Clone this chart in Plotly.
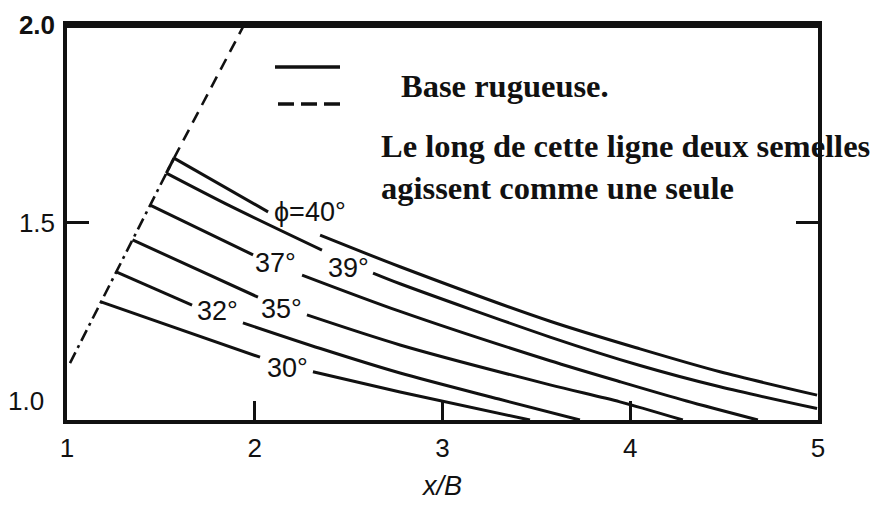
import plotly.graph_objects as go

# Ratio curves vs x/B for each friction angle (None = break where the angle label sits)
x_40 = [1.529, 1.570, None, 1.570, 2.071, None, 2.348, 2.774, 3.573, 4.052, 4.478, 4.995]
y_40 = [1.625, 1.663, None, 1.663, 1.527, None, 1.468, 1.388, 1.250, 1.180, 1.122, 1.063]

x_39 = [1.529, 1.868, 2.358, None, 2.630, 2.774, 3.573, 4.052, 4.478, 4.995]
y_39 = [1.625, 1.542, 1.430, None, 1.372, 1.345, 1.210, 1.138, 1.084, 1.029]

x_37 = [1.443, 1.991, None, 2.252, 2.774, 3.573, 3.945, 4.300, 4.680]
y_37 = [1.544, 1.418, None, 1.367, 1.275, 1.150, 1.097, 1.048, 1.000]

x_35 = [1.349, 2.017, None, 2.278, 2.774, 3.573, 3.945, 4.280]
y_35 = [1.456, 1.311, None, 1.266, 1.190, 1.089, 1.046, 1.000]

x_32 = [1.262, 1.666, None, 1.937, 2.350, 2.774, 3.300, 3.732]
y_32 = [1.375, 1.291, None, 1.246, 1.181, 1.119, 1.053, 1.000]

x_30 = [1.181, 2.028, None, 2.310, 2.774, 3.466]
y_30 = [1.299, 1.159, None, 1.122, 1.071, 1.000]

# Limit line where the two footings act as one
limit_x_low = [1.016, 1.181, 1.262, 1.349, 1.443, 1.529, 1.570]
limit_y_low = [1.144, 1.299, 1.375, 1.456, 1.544, 1.625, 1.663]
limit_x_up = [1.570, 1.943]
limit_y_up = [1.663, 2.000]

# Angle labels
label_text = ["\u03d5=40\u00b0", "39\u00b0", "37\u00b0", "35\u00b0", "32\u00b0", "30\u00b0"]
label_x = [2.294, 2.497, 2.113, 2.140, 1.799, 2.172]
label_y = [1.527, 1.385, 1.397, 1.281, 1.276, 1.132]

x_ticks = [1, 2, 3, 4, 5]
x_ticktext = ["1", "2", "3", "4", "5"]
y_ticks = [1.5, 2.0]
y_ticktext = ["1.5", "<b>2.0</b>"]

SANS = "Liberation Sans, Arial, sans-serif"
SERIF = "Liberation Serif, Times New Roman, serif"
INK = "#111111"

fig = go.Figure()

curves = [(x_40, y_40), (x_39, y_39), (x_37, y_37), (x_35, y_35), (x_32, y_32), (x_30, y_30)]
for cx, cy in curves:
    fig.add_trace(go.Scatter(
        x=cx, y=cy, mode="lines", connectgaps=False,
        line=dict(color=INK, width=3, shape="spline", smoothing=0.8),
        hoverinfo="skip",
    ))

fig.add_trace(go.Scatter(
    x=limit_x_low, y=limit_y_low, mode="lines",
    line=dict(color=INK, width=2.6, dash="12px,5px,3px,5px"),
    hoverinfo="skip",
))
fig.add_trace(go.Scatter(
    x=limit_x_up, y=limit_y_up, mode="lines",
    line=dict(color=INK, width=2.6, dash="12px,8px"),
    hoverinfo="skip",
))

annotations = []
for t, lx, ly in zip(label_text, label_x, label_y):
    annotations.append(dict(
        x=lx, y=ly, xref="x", yref="y", text=t, showarrow=False,
        xanchor="center", yanchor="middle",
        font=dict(family=SANS, size=27, color=INK),
    ))

# "1.0" sits a little above the bottom axis
annotations.append(dict(
    x=0, y=1.0, xref="paper", yref="y", text="1.0", showarrow=False,
    xanchor="right", yanchor="middle", xshift=-21, yshift=19,
    font=dict(family=SANS, size=26, color=INK),
))

# Key texts
annotations.append(dict(
    x=(399 - 67) / 751, y=(420 - 86) / 395, xref="paper", yref="paper",
    text="<b>Base rugueuse.</b>", showarrow=False,
    xanchor="left", yanchor="middle", align="left",
    font=dict(family=SERIF, size=32.5, color=INK),
))
annotations.append(dict(
    x=(379 - 67) / 751, y=(420 - 167) / 395, xref="paper", yref="paper",
    text="<b>Le long de cette ligne deux semelles<br>agissent comme une seule</b>",
    showarrow=False, xanchor="left", yanchor="middle", align="left",
    font=dict(family=SERIF, size=32.5, color=INK),
))

shapes = [
    # heavy top frame
    dict(type="line", xref="paper", yref="paper", x0=-0.002, x1=1.002, y0=1, y1=1,
         line=dict(color=INK, width=6)),
    # key: solid line
    dict(type="line", xref="paper", yref="paper",
         x0=(275 - 67) / 751, x1=(340 - 67) / 751,
         y0=(420 - 67) / 395, y1=(420 - 67) / 395,
         line=dict(color=INK, width=3.5)),
    # key: dashed line
    dict(type="line", xref="paper", yref="paper",
         x0=(278 - 67) / 751, x1=(340 - 67) / 751,
         y0=(420 - 104) / 395, y1=(420 - 104) / 395,
         line=dict(color=INK, width=3.5, dash="16px,7px")),
]

fig.update_layout(
    width=879, height=505,
    margin=dict(l=67, r=61, t=25, b=85, autoexpand=False),
    paper_bgcolor="white", plot_bgcolor="white",
    showlegend=False,
    annotations=annotations,
    shapes=shapes,
    xaxis=dict(
        range=[1, 5], tickmode="array", tickvals=x_ticks, ticktext=x_ticktext,
        ticks="inside", ticklen=19, tickwidth=2.5, tickcolor=INK,
        showline=True, linewidth=3.5, linecolor=INK, mirror=True,
        showgrid=False, zeroline=False, automargin=False,
        tickfont=dict(family=SANS, size=26, color=INK),
        ticklabelstandoff=2,
        title=dict(text="<i>x/B</i>", font=dict(family=SANS, size=27, color=INK), standoff=15),
    ),
    yaxis=dict(
        range=[1, 2], tickmode="array", tickvals=y_ticks, ticktext=y_ticktext,
        ticks="inside", ticklen=22, tickwidth=2.5, tickcolor=INK,
        showline=True, linewidth=3.5, linecolor=INK, mirror="ticks",
        showgrid=False, zeroline=False, automargin=False,
        tickfont=dict(family=SANS, size=26, color=INK),
        ticklabelstandoff=3,
    ),
)

fig.write_html("out.html")
